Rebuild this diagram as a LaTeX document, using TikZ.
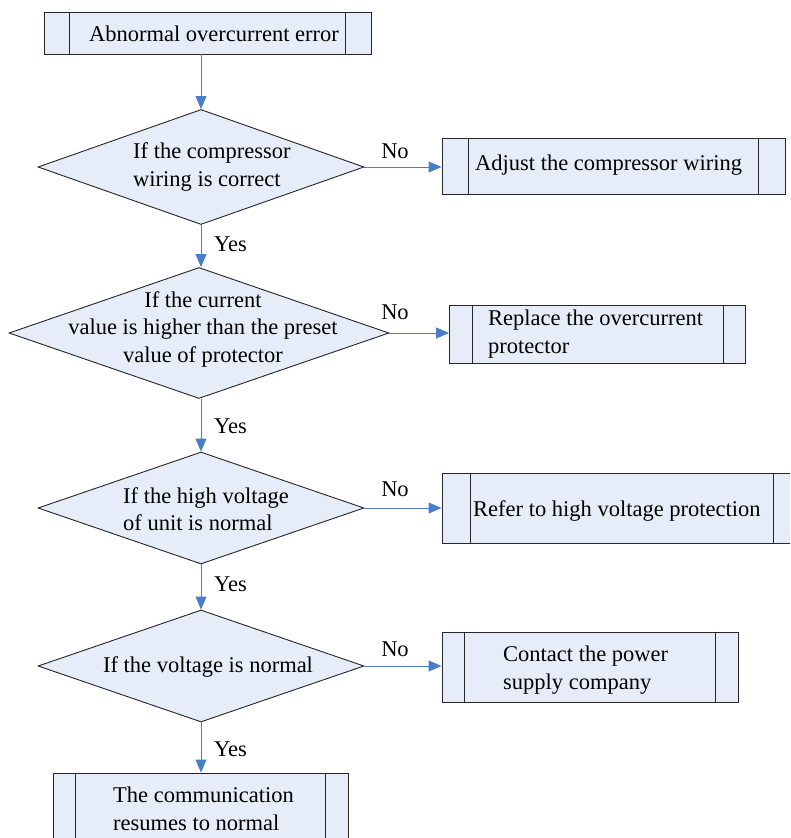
\documentclass[tikz,border=0pt]{standalone}
\usepackage{fontspec}
\setmainfont{Liberation Serif}
\usetikzlibrary{shapes.geometric,arrows.meta}
\definecolor{boxfill}{HTML}{E6ECF8}
\definecolor{arrowblue}{HTML}{4A7EC8}
\begin{document}
\begin{tikzpicture}[x=1pt,y=-1pt,
  every node/.style={font=\fontsize{22.5}{27.5}\selectfont},
  procbox/.style={draw=black!85,fill=boxfill,line width=0.9pt,rectangle,inner sep=0pt},
  decbox/.style={draw=black!85,fill=boxfill,line width=0.9pt,diamond,inner sep=0pt,aspect=1},
  txt/.style={inner sep=0pt,align=left,anchor=west},
  ctxt/.style={inner sep=0pt,align=center},
  flow/.style={draw=arrowblue,line width=0.9pt,-{Triangle[length=13pt,width=11pt]}},
  lbl/.style={inner sep=0pt}]
\clip (0,0) rectangle (790,838);
\fill[white] (0,0) rectangle (790,838);

\newcommand\pbars[2]{%
  \draw[black!85,line width=0.9pt] ([xshift=#2pt]#1.north west) -- ([xshift=#2pt]#1.south west);
  \draw[black!85,line width=0.9pt] ([xshift=-#2pt]#1.north east) -- ([xshift=-#2pt]#1.south east);}

% process boxes
\node[procbox,minimum width=327pt,minimum height=42pt] (b1) at (207.5,33) {};
\pbars{b1}{26}
\node[procbox,minimum width=343pt,minimum height=56pt] (b2) at (613.5,166) {};
\pbars{b2}{27}
\node[procbox,minimum width=296pt,minimum height=58pt] (b3) at (597.5,334) {};
\pbars{b3}{23}
\node[procbox,minimum width=360pt,minimum height=70pt] (b4) at (622,508) {};
\pbars{b4}{29}
\node[procbox,minimum width=296pt,minimum height=70pt] (b5) at (590,667) {};
\pbars{b5}{23}
\node[procbox,minimum width=295pt,minimum height=90pt] (b6) at (200.5,818) {};
\pbars{b6}{23}

% decisions
\node[decbox,minimum width=326pt,minimum height=115pt] (d1) at (201,167) {};
\node[decbox,minimum width=380pt,minimum height=131pt] (d2) at (199,333) {};
\node[decbox,minimum width=326pt,minimum height=112pt] (d3) at (201,508) {};
\node[decbox,minimum width=326pt,minimum height=112pt] (d4) at (201,666) {};

% texts
\node[ctxt] (t1) at (214,34) {Abnormal overcurrent error};
\node[txt] (td1) at (133,167) {If the compressor\\wiring is correct};
\node[ctxt] (td2) at (203,329) {If the current\\value is higher than the preset\\value of protector};
\node[txt] (td3) at (123,509) {If the high voltage\\of unit is normal};
\node[ctxt] (td4) at (208,667) {If the voltage is normal};
\node[txt] (tb2) at (475,165) {Adjust the compressor wiring};
\node[txt] (tb3) at (488,334) {Replace the overcurrent\\protector};
\node[txt] (tb4) at (473,511) {Refer to high voltage protection};
\node[txt] (tb5) at (503,670) {Contact the power\\supply company};
\node[txt] (tb6) at (113,809) {The communication\\resumes to normal};

% connectors
\draw[flow] (b1.south -| d1.north) -- (d1.north);
\draw[flow] (d1.south) -- (d1.south |- d2.north);
\draw[flow] (d2.south -| d1.south) -- (d3.north);
\draw[flow] (d3.south) -- (d4.north);
\draw[flow] (d4.south) -- (d4.south |- b6.north);
\draw[flow] (d1.east) -- (d1.east -| b2.west);
\draw[flow] (d2.east) -- (d2.east -| b3.west);
\draw[flow] (d3.east) -- (d3.east -| b4.west);
\draw[flow] (d4.east) -- (d4.east -| b5.west);

% labels
\node[lbl] (n1) at (395,151) {No};
\node[lbl] (n2) at (395,312) {No};
\node[lbl] (n3) at (395,489) {No};
\node[lbl] (n4) at (395,649) {No};
\node[lbl,anchor=west] (y1) at (214,244) {Yes};
\node[lbl,anchor=west] (y2) at (214,426) {Yes};
\node[lbl,anchor=west] (y3) at (214,584) {Yes};
\node[lbl,anchor=west] (y4) at (214,749) {Yes};
\end{tikzpicture}
\end{document}
